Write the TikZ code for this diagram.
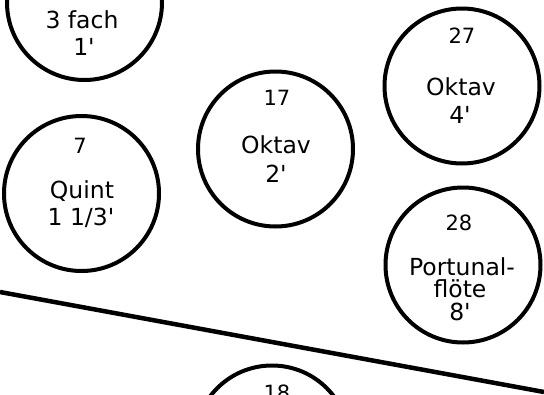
\documentclass[tikz,border=0pt]{standalone}
\usepackage{fontspec}
\setmainfont{DejaVu Sans}[Ligatures=TeXOff]
\begin{document}
\begin{tikzpicture}[x=1pt,y=-1pt,
  pipe/.style={circle,draw=black,line width=4pt,minimum size=155pt,inner sep=0pt},
  nr/.style={anchor=base,inner sep=0pt,font=\fontsize{21}{24}\selectfont},
  txt/.style={anchor=base,inner sep=0pt,font=\fontsize{23.5}{26}\selectfont},
  divider/.style={line width=4.5pt,line cap=butt}]
\useasboundingbox (0,0) rectangle (544,394);
\fill[white] (0,0) rectangle (544,394);
% circles
\node[pipe] (mix) at (84.5,2.5) {};
\node[pipe] (o27) at (462,86) {};
\node[pipe] (o17) at (275.5,149) {};
\node[pipe] (q7) at (81.5,193.5) {};
\node[pipe] (p28) at (463,265) {};
\node[pipe] (c18) at (272,443) {};
% texts
\node[txt] (mixa) at (82,28) {3 fach};
\node[txt] (mixb) at (84,55) {1'};
\node[nr]  (o27n) at (462,43) {27};
\node[txt] (o27a) at (461,95) {Oktav};
\node[txt] (o27b) at (460,123) {4'};
\node[nr]  (o17n) at (277,105) {17};
\node[txt] (o17a) at (276,153) {Oktav};
\node[txt] (o17b) at (276,182) {2'};
\node[nr]  (q7n) at (80,153) {7};
\node[txt] (q7a) at (82,198) {Quint};
\node[txt] (q7b) at (81,225) {1 1/3'};
\node[nr]  (p28n) at (459,230) {28};
\node[txt] (p28a) at (462,275) {Portunal-};
\node[txt] (p28b) at (460,297) {flöte};
\node[txt] (p28c) at (460,320) {8'};
\node[nr]  (c18n) at (277,400) {18};
% dividing line
\coordinate (la) at (0,292);
\coordinate (lb) at (544,392);
\draw[divider] (la) -- (lb);
\end{tikzpicture}
\end{document}
